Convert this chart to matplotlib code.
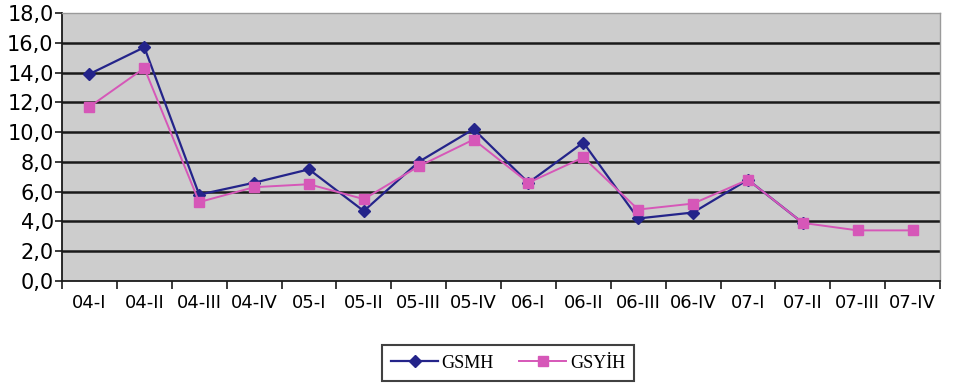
import numpy as np
import matplotlib
matplotlib.use("Agg")
import matplotlib.pyplot as plt

quarters = ["04-I", "04-II", "04-III", "04-IV", "05-I", "05-II", "05-III", "05-IV",
            "06-I", "06-II", "06-III", "06-IV", "07-I", "07-II", "07-III", "07-IV"]
gsmh = [13.9, 15.7, 5.8, 6.6, 7.5, 4.7, 8.0, 10.2,
        6.6, 9.3, 4.2, 4.6, 6.8, 3.9, np.nan, np.nan]
gsyih = [11.7, 14.3, 5.3, 6.3, 6.5, 5.5, 7.7, 9.5,
         6.6, 8.3, 4.8, 5.2, 6.8, 3.9, 3.4, 3.4]
yticks = np.arange(0, 18.1, 2)

fig = plt.figure(figsize=(9.57, 3.89), dpi=100)
ax = fig.add_axes([62 / 957, 1 - 281 / 389, (940 - 62) / 957, (281 - 13) / 389])
ax.set_facecolor("#cdcdcd")

x = np.arange(len(quarters))
ax.plot(x, gsmh, color="#24248a", lw=1.6, marker="D", ms=6.5,
        mfc="#24248a", mec="#24248a", label="GSMH", zorder=3)
ax.plot(x, gsyih, color="#d657b8", lw=1.4, marker="s", ms=7.5,
        mfc="#d657b8", mec="#d657b8", label="GSYİH", zorder=3)

ax.set_xlim(-0.5, len(quarters) - 0.5)
ax.set_ylim(0, 18)
ax.set_yticks(yticks)
ax.set_yticklabels([f"{v:.1f}".replace(".", ",") for v in yticks],
                   fontsize=15, family="DejaVu Sans")
for v in yticks[1:-1]:
    ax.axhline(v, color="#1a1a1a", lw=1.8, zorder=1)

# category labels centred, tick marks between categories
ax.set_xticks(x)
ax.set_xticklabels(quarters, fontsize=13, family="DejaVu Sans")
ax.tick_params(axis="x", length=0, pad=9)
ax.set_xticks(np.arange(-0.5, len(quarters), 1), minor=True)
ax.tick_params(axis="x", which="minor", length=6, width=1.2, color="#1a1a1a")
ax.tick_params(axis="y", length=5, width=1.2, color="#1a1a1a", pad=1)

for side in ["top", "right"]:
    ax.spines[side].set_color("#9a9a9a")
    ax.spines[side].set_linewidth(1.0)
for side in ["left", "bottom"]:
    ax.spines[side].set_color("#1a1a1a")
    ax.spines[side].set_linewidth(1.3)

leg = fig.legend(loc="center", bbox_to_anchor=(508 / 957, 1 - 363 / 389),
                 ncol=2, frameon=True, fancybox=False, handlelength=2.6,
                 columnspacing=1.4, handletextpad=0.2, borderpad=0.5,
                 prop={"family": "Liberation Serif", "size": 13})
leg.get_frame().set_edgecolor("#111111")
leg.get_frame().set_linewidth(1.5)

fig.savefig("out.png", dpi=100, facecolor="white")
